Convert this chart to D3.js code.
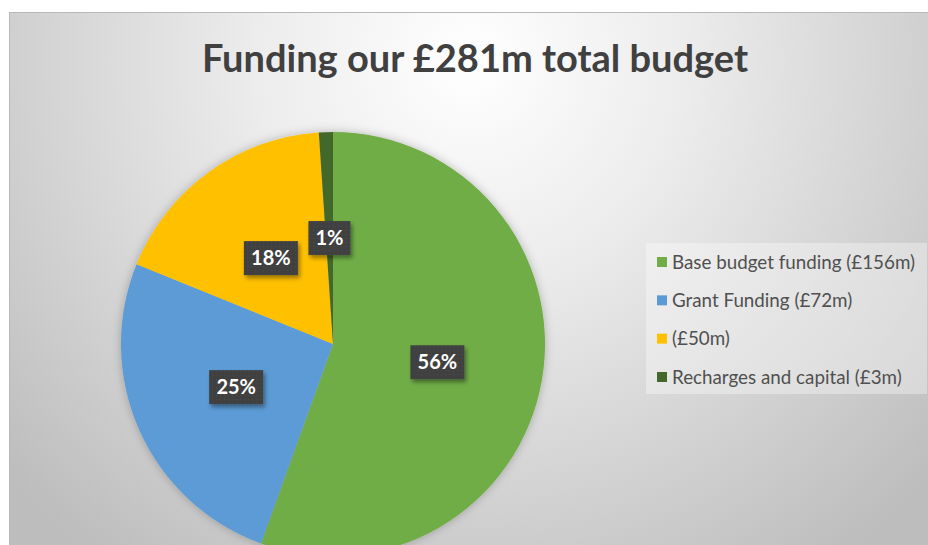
<!DOCTYPE html>
<html>
<head>
<meta charset="utf-8">
<script src="https://cdn.jsdelivr.net/npm/d3@7"></script>
<style>
  html, body { margin: 0; padding: 0; background: #fff; }
  svg { display: block; }
</style>
</head>
<body>
<script>
var w = 928;
var h = 545;

// funding sources, £m
var categories = ["Base budget funding (£156m)", "Grant Funding (£72m)", "(£50m)", "Recharges and capital (£3m)"];
var values = [156, 72, 50, 3];
var pctLabels = ["56%", "25%", "18%", "1%"];
var colors = ["#70ad47", "#5b9bd5", "#ffc000", "#43682b"];

var svg = d3.select("body")
    .append("svg")
    .attr("width", w)
    .attr("height", h);

var defs = svg.append("defs");

var bg = defs.append("radialGradient")
    .attr("id", "bg")
    .attr("gradientUnits", "userSpaceOnUse")
    .attr("cx", 470).attr("cy", 60)
    .attr("r", 620);
bg.append("stop").attr("offset", "0").attr("stop-color", "#ffffff");
bg.append("stop").attr("offset", "0.35").attr("stop-color", "#ececec");
bg.append("stop").attr("offset", "1").attr("stop-color", "#bdbdbd");

var glow = defs.append("filter").attr("id", "glow")
    .attr("x", "-20%").attr("y", "-20%").attr("width", "140%").attr("height", "140%");
glow.append("feDropShadow")
    .attr("dx", 0).attr("dy", 0).attr("stdDeviation", 5)
    .attr("flood-color", "#000").attr("flood-opacity", 0.25);

var boxShadow = defs.append("filter").attr("id", "boxShadow")
    .attr("x", "-30%").attr("y", "-30%").attr("width", "170%").attr("height", "170%");
boxShadow.append("feDropShadow")
    .attr("dx", 2).attr("dy", 3).attr("stdDeviation", 2)
    .attr("flood-color", "#000").attr("flood-opacity", 0.4);

var dots = defs.append("pattern")
    .attr("id", "dots")
    .attr("patternUnits", "userSpaceOnUse")
    .attr("width", 4).attr("height", 4);
dots.append("rect").attr("width", 4).attr("height", 4).attr("fill", "#404040");
dots.append("rect").attr("width", 1).attr("height", 1).attr("fill", "#4e4e4e");

// chart area
svg.append("rect")
    .attr("x", 9.5).attr("y", 12.5)
    .attr("width", w + 10).attr("height", h)
    .attr("fill", "url(#bg)")
    .attr("stroke", "#b8b8b8");

svg.append("text")
    .attr("x", 475)
    .attr("y", 72)
    .attr("text-anchor", "middle")
    .attr("font-family", "Lato, sans-serif")
    .attr("font-weight", "bold")
    .attr("font-size", 38)
    .attr("fill", "#404040")
    .text("Funding our £281m total budget");

// pie
var cx = 333, cy = 344, r = 212;

var pie = d3.pie().sort(null).value(function(d){ return d; });
var arc = d3.arc().innerRadius(0).outerRadius(r);
var arcs = pie(values);

var g = svg.append("g")
    .attr("transform", "translate(" + cx + "," + cy + ")");

g.append("g")
    .attr("filter", "url(#glow)")
    .selectAll("path")
    .data(arcs)
    .enter()
    .append("path")
    .attr("d", arc)
    .attr("fill", function(d, i){ return colors[i]; });

var labels = g.selectAll(".lbl")
    .data(arcs)
    .enter()
    .append("g")
    .attr("class", "lbl")
    .attr("transform", function(d){
        var c = arc.centroid(d);
        return "translate(" + c[0] + "," + c[1] + ")";
    });

labels.append("rect")
    .attr("x", function(d, i){ return i == 3 ? -21 : -27; })
    .attr("y", -17)
    .attr("width", function(d, i){ return i == 3 ? 42 : 54; })
    .attr("height", 34)
    .attr("fill", "url(#dots)")
    .attr("filter", "url(#boxShadow)");

labels.append("text")
    .attr("text-anchor", "middle")
    .attr("dy", "0.36em")
    .attr("font-family", "Lato, sans-serif")
    .attr("font-weight", "bold")
    .attr("font-size", 20)
    .attr("fill", "#fff")
    .text(function(d, i){ return pctLabels[i]; });

// legend
var legend = svg.append("g");
legend.append("rect")
    .attr("x", 646).attr("y", 243)
    .attr("width", 281).attr("height", 151)
    .attr("fill", "#fff")
    .attr("fill-opacity", 0.35);

var yLeg = d3.scalePoint()
    .domain(d3.range(categories.length))
    .range([262, 377]);

var items = legend.selectAll(".item")
    .data(categories)
    .enter()
    .append("g")
    .attr("transform", function(d, i){ return "translate(0," + yLeg(i) + ")"; });

items.append("rect")
    .attr("x", 657).attr("y", -5)
    .attr("width", 10).attr("height", 10)
    .attr("fill", function(d, i){ return colors[i]; });

items.append("text")
    .attr("x", 672)
    .attr("dy", "0.36em")
    .attr("font-family", "Lato, sans-serif")
    .attr("font-size", 18.8)
    .attr("fill", "#505050")
    .text(function(d){ return d; });
</script>
</body>
</html>
